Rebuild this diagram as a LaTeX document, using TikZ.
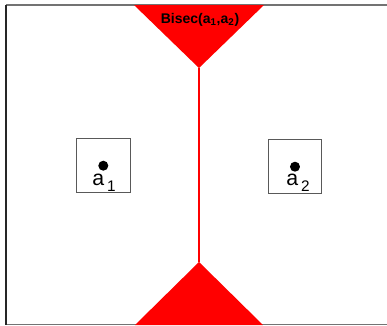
\documentclass[tikz,border=0pt]{standalone}
\usepackage{fontspec}
\setmainfont{Liberation Sans}
\begin{document}
\begin{tikzpicture}[x=0.75pt,y=-0.75pt,
  site/.style={circle,fill=black,inner sep=0pt,minimum size=7.5pt},
  sitebox/.style={draw=black!65,line width=0.75pt,minimum width=40pt,minimum height=40.5pt,inner sep=0pt},
  sitelabel/.style={font=\fontsize{16}{16}\selectfont,inner sep=0pt},
  region/.style={fill=red,draw=none},
  bisector/.style={red,line width=2pt}]
\useasboundingbox (0,0) rectangle (387,326);
% frame
\draw[black!55,line width=1.3pt] (6,5) -- (387,5);
\draw[black!55,line width=1.3pt] (6,324.5) -- (387,324.5);
\draw[black!85,line width=1.5pt] (6,5) -- (6,325);
% bisector regions
\coordinate (topapex) at (199,68);
\coordinate (botapex) at (199,262);
\fill[region] (134,5) -- (264,5) -- (topapex) -- cycle;
\fill[region] (135,325) -- (263,325) -- (botapex) -- cycle;
\draw[bisector] (topapex) -- (botapex);
\node[font=\bfseries\fontsize{10.5}{10.5}\selectfont,inner sep=0pt] (title) at (200,20)
  {Bisec(a\textsubscript{1},a\textsubscript{2})};
% sites
\node[sitebox] (box1) at (103.5,165.5) {};
\node[sitebox] (box2) at (295,166) {};
\node[site] (s1) at (103.3,165.7) {};
\node[site] (s2) at (295,166.7) {};
\node[sitelabel,anchor=north] (l1) at (104,174) {a\hspace{2pt}\raisebox{-4pt}{\fontsize{11.5}{11.5}\selectfont 1}};
\node[sitelabel,anchor=north] (l2) at (298,174) {a\hspace{2pt}\raisebox{-4pt}{\fontsize{11.5}{11.5}\selectfont 2}};
\end{tikzpicture}
\end{document}
